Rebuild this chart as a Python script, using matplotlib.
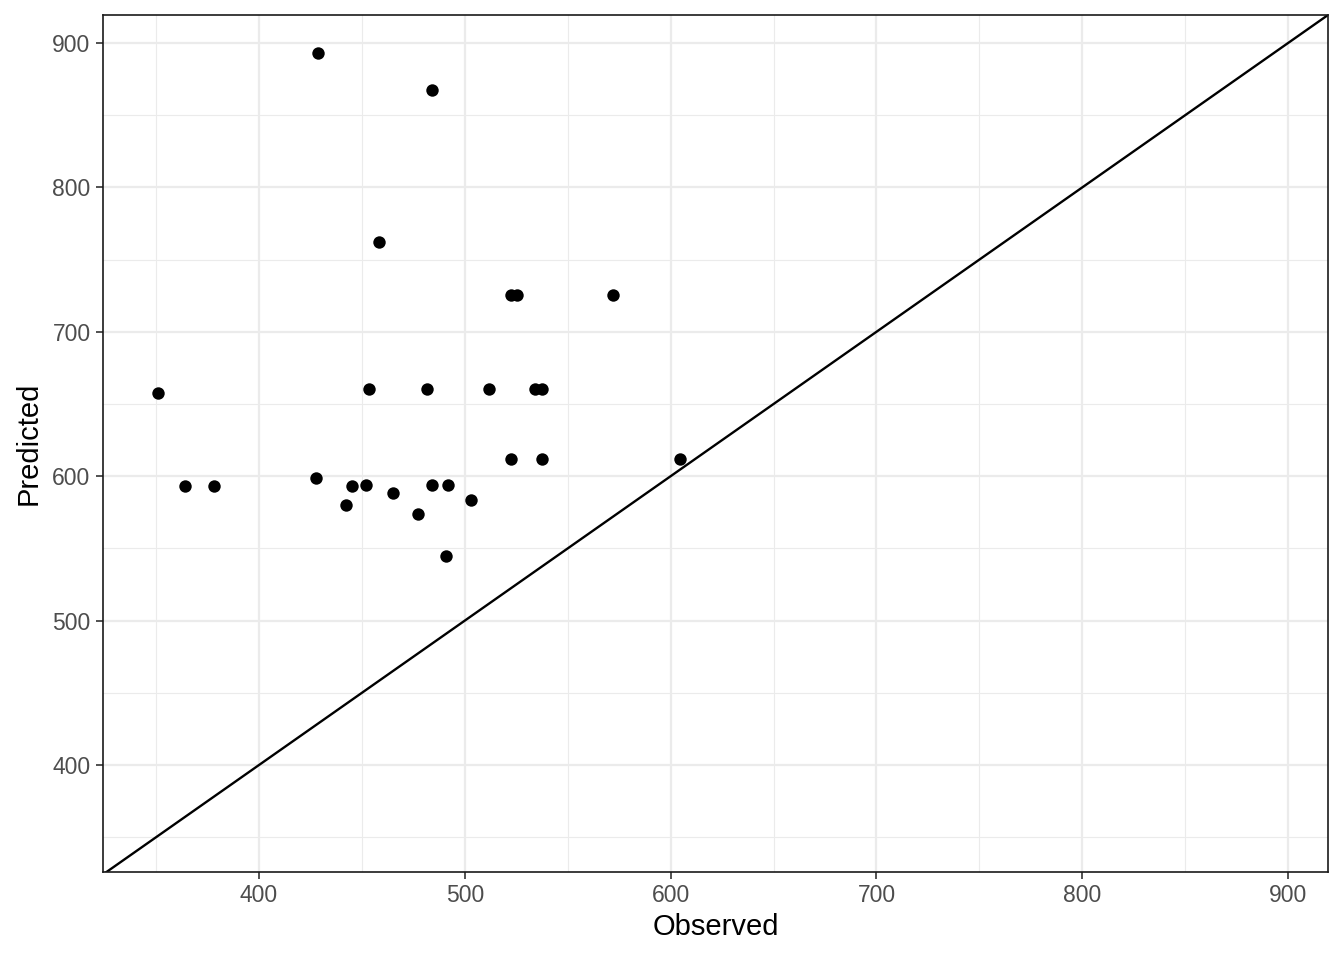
import numpy as np
import matplotlib
matplotlib.use("Agg")
from matplotlib import pyplot as plt

plt.rcParams['font.family'] = ['Liberation Sans', 'DejaVu Sans']

observed = [350.9, 364.0, 378.1, 427.7, 428.7, 442.3, 445.2, 452.0, 453.5, 458.3,
            465.1, 477.3, 481.6, 484.1, 484.1, 490.9, 491.8, 503.0, 511.8, 522.6,
            525.4, 522.6, 534.3, 537.3, 537.5, 572.0, 604.6]
predicted = [657.6, 593.2, 593.2, 598.8, 893.1, 580.1, 593.2, 593.9, 660.4, 762.2,
             588.3, 573.7, 660.4, 867.5, 593.9, 544.7, 593.9, 583.5, 660.4, 725.4,
             725.4, 611.9, 660.4, 660.4, 611.9, 725.4, 611.9]

lims = [324.2, 919.4]
ticks = [400, 500, 600, 700, 800, 900]
minor = [350, 450, 550, 650, 750, 850]

fig = plt.figure(figsize=(13.44, 9.6), dpi=100)
ax = fig.add_axes([103/1344, 88/960, 1225/1344, 857/960])

ax.set_xlim(lims)
ax.set_ylim(lims[0] + 1.7, lims[1])
ax.set_xticks(ticks)
ax.set_yticks(ticks)
ax.set_xticks(minor, minor=True)
ax.set_yticks(minor, minor=True)
ax.grid(True, which="major", color="#EBEBEB", linewidth=1.6)
ax.grid(True, which="minor", color="#EBEBEB", linewidth=0.8)
ax.set_axisbelow(True)

ax.plot(lims, lims, color="black", linewidth=1.7, zorder=2)
ax.scatter(observed, predicted, s=80, color="black", zorder=3, linewidths=0)

for s in ax.spines.values():
    s.set_color("#1A1A1A")
    s.set_linewidth(1.2)
ax.tick_params(which="major", length=5, width=1.2, color="#333333",
               labelsize=16.5, labelcolor="#4D4D4D", pad=4)
ax.tick_params(which="minor", length=0)

ax.set_xlabel("Observed", fontsize=21, labelpad=4)
ax.set_ylabel("Predicted", fontsize=21, labelpad=7)

plt.savefig("out.png", dpi=100)
